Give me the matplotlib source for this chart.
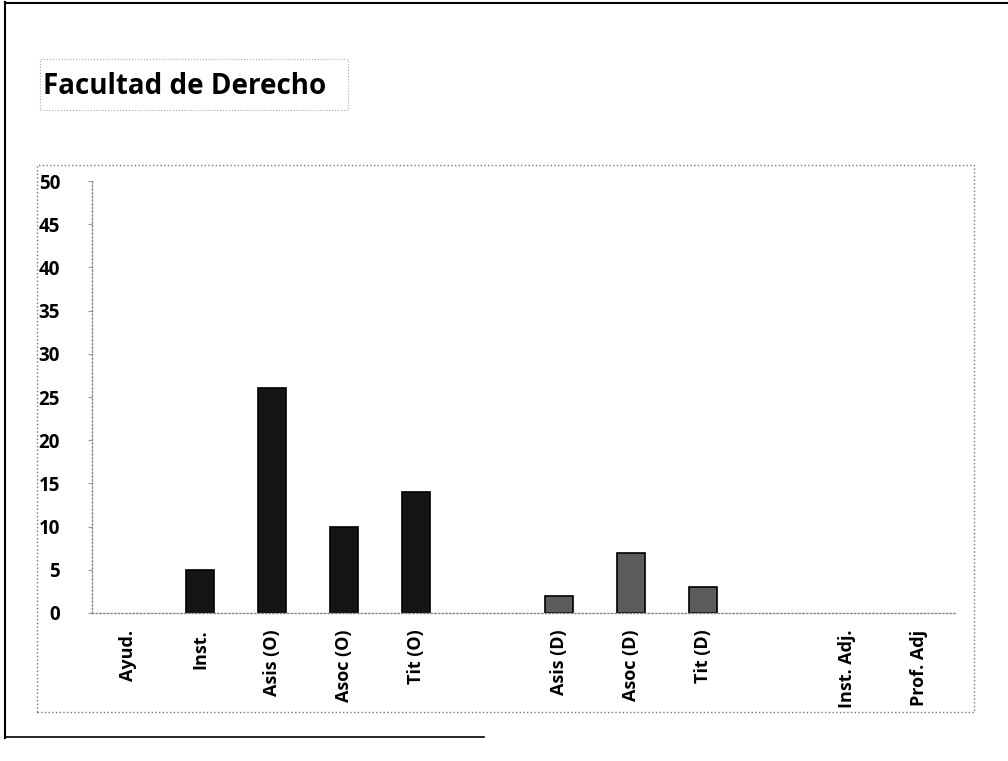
import matplotlib.pyplot as plt
from matplotlib.lines import Line2D
from matplotlib.patches import Rectangle

plt.rcParams['font.family'] = ['Open Sans', 'DejaVu Sans']

# teaching staff counts by category (None = spacer between groups)
categories = ['Ayud.', 'Inst.', 'Asis (O)', 'Asoc (O)', 'Tit (O)', '',
              'Asis (D)', 'Asoc (D)', 'Tit (D)', '', 'Inst. Adj.', 'Prof. Adj']
values = [0, 5, 26, 10, 14, None, 2, 7, 3, None, 0, 0]
groups = ['O', 'O', 'O', 'O', 'O', None, 'D', 'D', 'D', None, 'A', 'A']
group_colors = {'O': '#151515', 'D': '#5c5c5c', 'A': '#3a3a3a'}

fig = plt.figure(figsize=(10.08, 7.61), dpi=100)
ax = fig.add_axes([0.0913, 0.1945, 0.856, 0.5675])

for i, (v, g) in enumerate(zip(values, groups)):
    if v is None or v == 0:
        continue
    ax.bar(i, v, width=0.39, color=group_colors[g], edgecolor='black', linewidth=1.2)

ax.set_xlim(-0.5, len(categories) - 0.5)
ax.set_ylim(0, 50)
ax.set_yticks(range(0, 51, 5))
ax.set_xticks(range(len(categories)))
ax.set_xticklabels(categories, rotation=90, fontsize=13, fontweight='bold', va='top')
ax.tick_params(axis='x', length=0, pad=12)
ax.tick_params(axis='y', length=3, pad=20, labelsize=13.5, color='#999999')
for lbl in ax.get_yticklabels():
    lbl.set_fontweight('bold')

for side in ['top', 'right']:
    ax.spines[side].set_visible(False)
for side in ['left', 'bottom']:
    ax.spines[side].set_linestyle(':')
    ax.spines[side].set_color('#888888')
    ax.spines[side].set_linewidth(1)

# dotted plot-area frame
fig.add_artist(Rectangle((0.0367, 0.0644), 0.930, 0.7186, transform=fig.transFigure,
                         fill=False, linestyle=':', edgecolor='#777777', linewidth=1))

# title inside a dotted box
fig.add_artist(Rectangle((0.040, 0.855), 0.305, 0.068, transform=fig.transFigure,
                         fill=False, linestyle=':', edgecolor='#aaaaaa', linewidth=0.8))
fig.text(0.043, 0.886, 'Facultad de Derecho', fontsize=20, fontweight='bold',
         ha='left', va='center')

# outer chart border
fig.add_artist(Line2D([0.005, 0.005], [0.03, 0.997], transform=fig.transFigure,
                      color='black', linewidth=1.5))
fig.add_artist(Line2D([0.005, 1.0], [0.996, 0.996], transform=fig.transFigure,
                      color='black', linewidth=1.5))
fig.add_artist(Line2D([0.005, 0.48], [0.031, 0.031], transform=fig.transFigure,
                      color='black', linewidth=1.2))

fig.savefig('out.png', dpi=100)
